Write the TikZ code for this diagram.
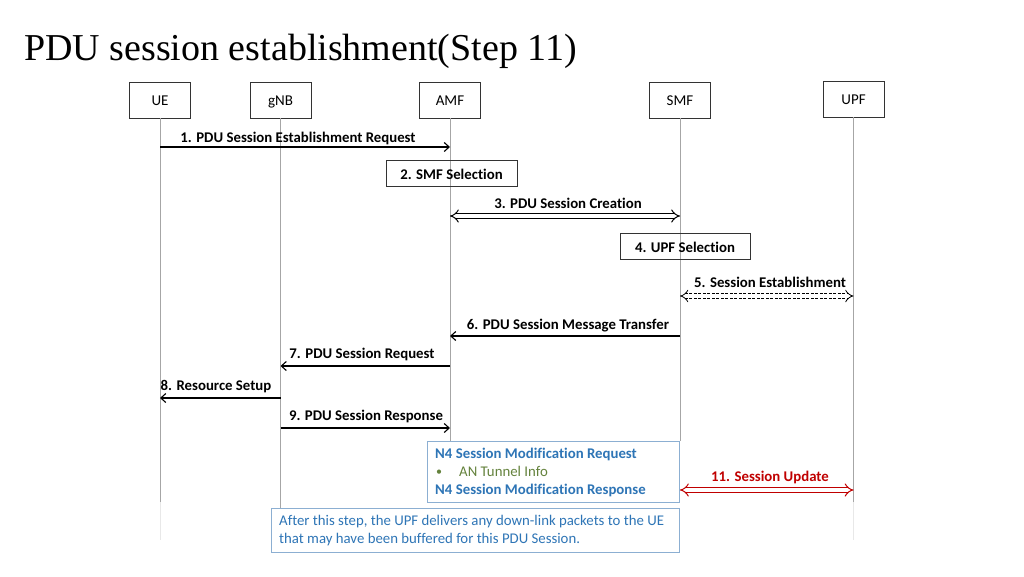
\documentclass[tikz,border=0pt]{standalone}
\usepackage{fontspec}
\setmainfont[Ligatures=NoCommon]{Carlito}
\newfontfamily\titlefont{Liberation Serif}
\usetikzlibrary{arrows.meta}
\definecolor{lifegray}{RGB}{166,166,166}
\definecolor{fadegray}{RGB}{232,232,232}
\definecolor{nblue}{RGB}{46,117,182}
\definecolor{ngreen}{RGB}{100,130,60}
\definecolor{nred}{RGB}{192,0,0}
\definecolor{boxblue}{RGB}{140,175,210}
\tikzset{
  ent/.style={draw=black!80, line width=0.6pt, minimum width=61pt, minimum height=36pt, inner sep=0pt, text height=11pt, text depth=0pt, font=\fontsize{15}{17}\selectfont},
  life/.style={draw=lifegray, line width=0.8pt},
  fade/.style={draw=fadegray, line width=0.8pt},
  msg/.style={draw=black, line width=1.1pt, -{Straight Barb[length=5pt,width=9pt]}},
  lbl/.style={font=\bfseries\fontsize{14.8}{16}\selectfont, inner sep=0pt, anchor=base},
  procbox/.style={draw=black!80, line width=0.8pt, inner sep=0pt, text height=12pt, text depth=0pt, font=\bfseries\fontsize{14.8}{16}\selectfont},
  dbl/.style={double distance=3.6pt, line width=1pt, {Implies}-{Implies}},
}
\begin{document}
\begin{tikzpicture}[x=1pt,y=-1pt]
\useasboundingbox (0,0) rectangle (1024,576);
% title
\node[anchor=base west, inner sep=0pt, font=\titlefont\fontsize{38}{42}\selectfont] (title) at (24,60) {PDU session establishment(Step 11)};
% entities
\node[ent] (ue) at (160,100) {UE};
\node[ent] (gnb) at (280.5,100) {gNB};
\node[ent] (amf) at (450,100) {AMF};
\node[ent] (smf) at (680,100) {SMF};
\node[ent] (upf) at (853.5,99) {UPF};
% lifeline end coordinates
\coordinate (ueE) at (160,502);
\coordinate (ueF) at (160,540);
\coordinate (gnbE) at (280.5,508);
\coordinate (amfE) at (450,441);
\coordinate (smfE) at (680,441);
\coordinate (upfE) at (853.5,502);
\coordinate (upfF) at (853.5,540);
\draw[fade] (ueE) -- (ueF);
\draw[fade] (upfE) -- (upfF);
\draw[life] (ue.south) -- (ueE);
\draw[life] (gnb.south) -- (gnbE);
\draw[life] (amf.south) -- (amfE);
\draw[life] (smf.south) -- (smfE);
\draw[life] (upf.south) -- (upfE);
% message anchor coordinates
\coordinate (m1a) at (160,147); \coordinate (m1b) at (450,147);
\coordinate (m3a) at (450,216); \coordinate (m3b) at (680,216);
\coordinate (m5a) at (680,296); \coordinate (m5b) at (853.5,296);
\coordinate (m6a) at (680,336); \coordinate (m6b) at (450,336);
\coordinate (m7a) at (450,366); \coordinate (m7b) at (280.5,366);
\coordinate (m8a) at (280.5,398); \coordinate (m8b) at (160,398);
\coordinate (m9a) at (280.5,428); \coordinate (m9b) at (450,428);
\coordinate (m11a) at (680,490); \coordinate (m11b) at (853.5,490);
% 1
\draw[msg] (m1a) -- (m1b);
\node[lbl] (l1) at (298,142) {1. PDU Session Establishment Request};
% 2
\node[procbox, minimum width=131pt, minimum height=26pt] (p2) at (451.5,173) {2. SMF Selection};
% 3
\draw[dbl] (m3a) -- (m3b);
\node[lbl] (l3) at (568,208) {3. PDU Session Creation};
% 4
\node[procbox, minimum width=130pt, minimum height=26pt] (p4) at (685,246) {4. UPF Selection};
% 5
\draw[dbl, line width=0.8pt, dash pattern=on 3pt off 1.5pt] (m5a) -- (m5b);
\node[lbl] (l5) at (770,287) {5. Session Establishment};
% 6
\draw[msg] (m6a) -- (m6b);
\node[lbl] (l6) at (568,329) {6. PDU Session Message Transfer};
% 7
\draw[msg] (m7a) -- (m7b);
\node[lbl] (l7) at (362,358) {7. PDU Session Request};
% 8
\draw[msg] (m8a) -- (m8b);
\node[lbl] (l8) at (216,390) {8. Resource Setup};
% 9
\draw[msg] (m9a) -- (m9b);
\node[lbl] (l9) at (366,420) {9. PDU Session Response};
% N4 box
\draw[boxblue, line width=0.8pt, fill=white] (427,441) rectangle (679.5,502);
\node[anchor=base west, inner sep=0pt, font=\bfseries\fontsize{14.8}{16}\selectfont, text=nblue] (n4a) at (435,458) {N4 Session Modification Request};
\node[anchor=base west, inner sep=0pt, font=\fontsize{12}{14}\selectfont, text=ngreen] (n4b) at (436,475) {•};
\node[anchor=base west, inner sep=0pt, font=\fontsize{14.8}{16}\selectfont, text=ngreen] (n4c) at (459,476) {AN Tunnel Info};
\node[anchor=base west, inner sep=0pt, font=\bfseries\fontsize{14.8}{16}\selectfont, text=nblue] (n4d) at (435,494) {N4 Session Modification Response};
% 11
\draw[dbl, draw=nred] (m11a) -- (m11b);
\node[lbl, text=nred] (l11) at (770,481) {11. Session Update};
% bottom note
\draw[boxblue, line width=0.8pt, fill=white] (271,508) rectangle (679.5,552);
\node[anchor=base west, inner sep=0pt, font=\fontsize{14.8}{16}\selectfont, text=nblue] (note1) at (279,525.5) {After this step, the UPF delivers any down-link packets to the UE};
\node[anchor=base west, inner sep=0pt, font=\fontsize{14.8}{16}\selectfont, text=nblue] (note2) at (279,543.5) {that may have been buffered for this PDU Session.};
\end{tikzpicture}
\end{document}
